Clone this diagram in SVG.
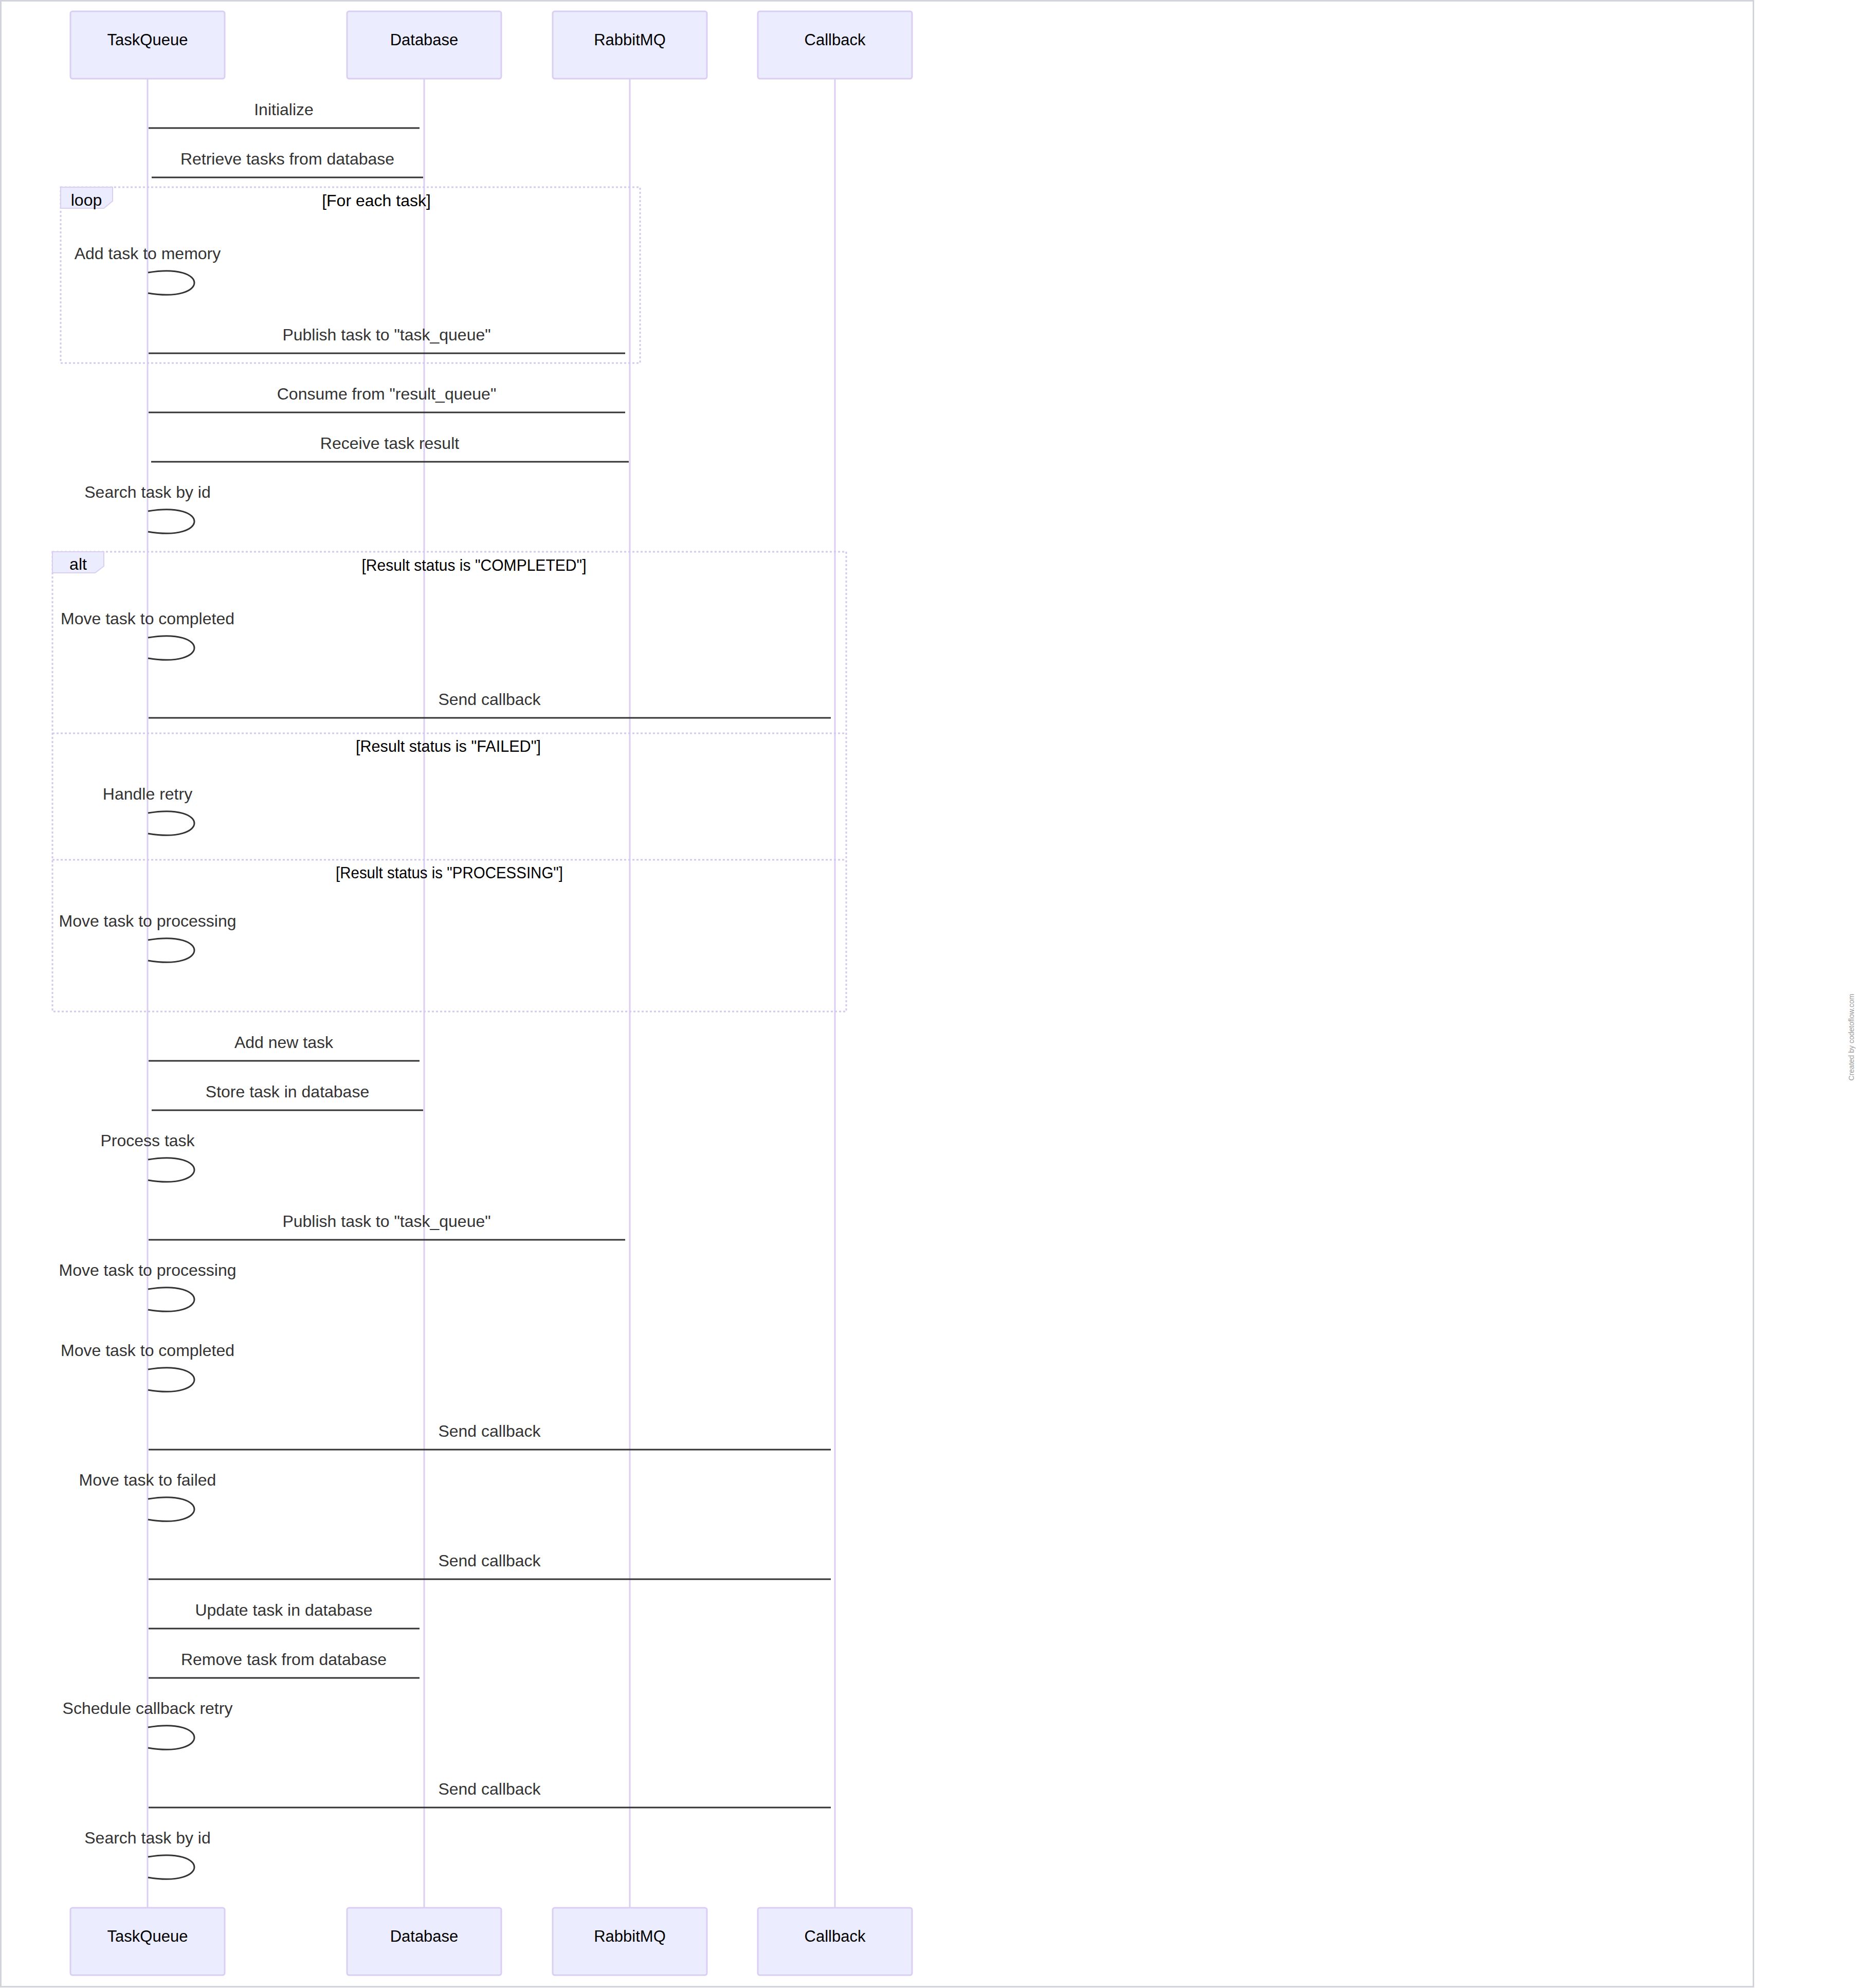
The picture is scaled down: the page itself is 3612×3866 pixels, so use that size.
<svg xmlns="http://www.w3.org/2000/svg" width="3612" height="3866" viewBox="0 0 3612 3866">
<style>
.actor{fill:#ECECFF;stroke:#DACEF3;stroke-width:3}
.actor-label{font-family:"Liberation Sans",Arial,sans-serif;font-size:31px;fill:#000;text-anchor:middle}
.lifeline{stroke:#DACEF3;stroke-width:3}
.msg{stroke:#333;stroke-width:3;fill:none}
.self{stroke:#333;stroke-width:3;fill:none}
.msg-text{font-family:"Liberation Sans",Arial,sans-serif;font-size:32px;fill:#333;text-anchor:middle}
.frag-line{stroke:#D4C8F0;stroke-width:3;stroke-dasharray:4 4;fill:none}
.label-box{fill:#ECECFF;stroke:#DACEF3;stroke-width:2}
.frag-text{font-family:"Liberation Sans",Arial,sans-serif;font-size:32px;fill:#000;text-anchor:middle}
.watermark{font-family:"Liberation Sans",Arial,sans-serif;font-size:14px;fill:#999;text-anchor:middle}
</style>
<rect x="0" y="0" width="3612" height="3866" fill="#fff"/>
<rect x="1.5" y="1.5" width="3409" height="3862" fill="#fff" stroke="#D1D5DB" stroke-width="3"/>
<text class="watermark" transform="translate(3606,2017) rotate(-90)">Created by codetoflow.com</text>

<g id="lifelines">
<line class="lifeline" x1="287" y1="153" x2="287" y2="3710"/>
<line class="lifeline" x1="825" y1="153" x2="825" y2="3710"/>
<line class="lifeline" x1="1225" y1="153" x2="1225" y2="3710"/>
<line class="lifeline" x1="1624" y1="153" x2="1624" y2="3710"/>
</g>

<g id="actor-TaskQueue">
<rect class="actor" x="137" y="22" width="300" height="131" rx="4"/>
<text class="actor-label" x="287" y="88">TaskQueue</text>
<rect class="actor" x="137" y="3710" width="300" height="131" rx="4"/>
<text class="actor-label" x="287" y="3776">TaskQueue</text>
</g>
<g id="actor-Database">
<rect class="actor" x="675" y="22" width="300" height="131" rx="4"/>
<text class="actor-label" x="825" y="88">Database</text>
<rect class="actor" x="675" y="3710" width="300" height="131" rx="4"/>
<text class="actor-label" x="825" y="3776">Database</text>
</g>
<g id="actor-RabbitMQ">
<rect class="actor" x="1075" y="22" width="300" height="131" rx="4"/>
<text class="actor-label" x="1225" y="88">RabbitMQ</text>
<rect class="actor" x="1075" y="3710" width="300" height="131" rx="4"/>
<text class="actor-label" x="1225" y="3776">RabbitMQ</text>
</g>
<g id="actor-Callback">
<rect class="actor" x="1474" y="22" width="300" height="131" rx="4"/>
<text class="actor-label" x="1624" y="88">Callback</text>
<rect class="actor" x="1474" y="3710" width="300" height="131" rx="4"/>
<text class="actor-label" x="1624" y="3776">Callback</text>
</g>

<g id="loop-fragment">
<rect class="frag-line" x="118" y="364" width="1127" height="342"/>
<polygon class="label-box" points="118,364 219,364 219,391 202,405 118,405"/>
<text class="frag-text" x="168" y="400">loop</text>
<text class="frag-text" x="732" y="401">[For each task]</text>
</g>

<g id="alt-fragment">
<rect class="frag-line" x="102" y="1073" width="1544" height="894"/>
<polygon class="label-box" points="102,1073 202,1073 202,1101 185,1114 102,1114"/>
<text class="frag-text" x="152" y="1108">alt</text>
<text class="frag-text" x="922" y="1110" textLength="437" lengthAdjust="spacingAndGlyphs">[Result status is "COMPLETED"]</text>
<line class="frag-line" x1="102" y1="1426" x2="1646" y2="1426"/>
<text class="frag-text" x="872" y="1462" textLength="360" lengthAdjust="spacingAndGlyphs">[Result status is "FAILED"]</text>
<line class="frag-line" x1="102" y1="1672" x2="1646" y2="1672"/>
<text class="frag-text" x="874" y="1708" textLength="442" lengthAdjust="spacingAndGlyphs">[Result status is "PROCESSING"]</text>
</g>

<g id="connectors">
<text class="msg-text" x="552" y="224">Initialize</text>
<line class="msg" x1="289" y1="249" x2="816" y2="249"/>
<text class="msg-text" x="559" y="320">Retrieve tasks from database</text>
<line class="msg" x1="823" y1="345" x2="295" y2="345"/>

<text class="msg-text" x="287" y="504">Add task to memory</text>
<path class="self" d="M288,530 C408,510 408,590 288,570"/>
<text class="msg-text" x="752" y="662">Publish task to "task_queue"</text>
<line class="msg" x1="289" y1="687" x2="1216" y2="687"/>

<text class="msg-text" x="752" y="777">Consume from "result_queue"</text>
<line class="msg" x1="289" y1="802" x2="1216" y2="802"/>
<text class="msg-text" x="758" y="873">Receive task result</text>
<line class="msg" x1="1223" y1="898" x2="294" y2="898"/>
<text class="msg-text" x="287" y="968">Search task by id</text>
<path class="self" d="M288,994 C408,974 408,1054 288,1034"/>

<text class="msg-text" x="287" y="1214">Move task to completed</text>
<path class="self" d="M288,1240 C408,1220 408,1300 288,1280"/>
<text class="msg-text" x="952" y="1371">Send callback</text>
<line class="msg" x1="289" y1="1396" x2="1616" y2="1396"/>
<text class="msg-text" x="287" y="1555">Handle retry</text>
<path class="self" d="M288,1581 C408,1561 408,1641 288,1621"/>
<text class="msg-text" x="287" y="1802">Move task to processing</text>
<path class="self" d="M288,1828 C408,1808 408,1888 288,1868"/>

<text class="msg-text" x="552" y="2038">Add new task</text>
<line class="msg" x1="289" y1="2063" x2="816" y2="2063"/>
<text class="msg-text" x="559" y="2134">Store task in database</text>
<line class="msg" x1="823" y1="2159" x2="295" y2="2159"/>
<text class="msg-text" x="287" y="2229">Process task</text>
<path class="self" d="M288,2255 C408,2235 408,2315 288,2295"/>
<text class="msg-text" x="752" y="2386">Publish task to "task_queue"</text>
<line class="msg" x1="289" y1="2411" x2="1216" y2="2411"/>
<text class="msg-text" x="287" y="2481">Move task to processing</text>
<path class="self" d="M288,2507 C408,2487 408,2567 288,2547"/>
<text class="msg-text" x="287" y="2637">Move task to completed</text>
<path class="self" d="M288,2663 C408,2643 408,2723 288,2703"/>
<text class="msg-text" x="952" y="2794">Send callback</text>
<line class="msg" x1="289" y1="2819" x2="1616" y2="2819"/>
<text class="msg-text" x="287" y="2889">Move task to failed</text>
<path class="self" d="M288,2915 C408,2895 408,2975 288,2955"/>
<text class="msg-text" x="952" y="3046">Send callback</text>
<line class="msg" x1="289" y1="3071" x2="1616" y2="3071"/>
<text class="msg-text" x="552" y="3142">Update task in database</text>
<line class="msg" x1="289" y1="3167" x2="816" y2="3167"/>
<text class="msg-text" x="552" y="3238">Remove task from database</text>
<line class="msg" x1="289" y1="3263" x2="816" y2="3263"/>
<text class="msg-text" x="287" y="3333">Schedule callback retry</text>
<path class="self" d="M288,3359 C408,3339 408,3419 288,3399"/>
<text class="msg-text" x="952" y="3490">Send callback</text>
<line class="msg" x1="289" y1="3515" x2="1616" y2="3515"/>
<text class="msg-text" x="287" y="3585">Search task by id</text>
<path class="self" d="M288,3611 C408,3591 408,3671 288,3651"/>
</g>
</svg>
